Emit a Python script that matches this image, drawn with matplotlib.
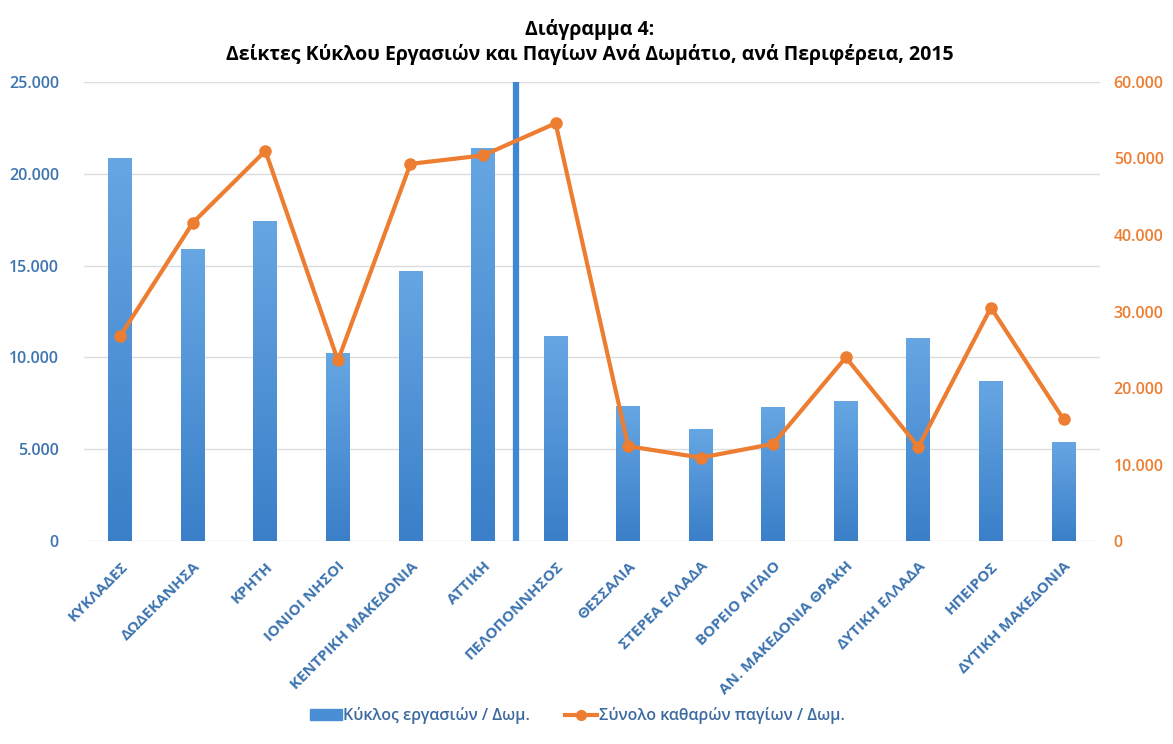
import matplotlib
matplotlib.use("Agg")
import numpy as np
import matplotlib.pyplot as plt
from matplotlib.ticker import FuncFormatter
from matplotlib.lines import Line2D
from matplotlib.patches import Patch
from matplotlib.colors import LinearSegmentedColormap

plt.rcParams['font.family'] = ['Open Sans', 'DejaVu Sans']

# ============================================================
# 数据
# ============================================================
regions = ["ΚΥΚΛΑΔΕΣ", "ΔΩΔΕΚΑΝΗΣΑ", "ΚΡΗΤΗ", "ΙΟΝΙΟΙ ΝΗΣΟΙ", "ΚΕΝΤΡΙΚΗ ΜΑΚΕΔΟΝΙΑ",
           "ΑΤΤΙΚΗ", "ΠΕΛΟΠΟΝΝΗΣΟΣ", "ΘΕΣΣΑΛΙΑ", "ΣΤΕΡΕΑ ΕΛΛΑΔΑ", "ΒΟΡΕΙΟ ΑΙΓΑΙΟ",
           "ΑΝ. ΜΑΚΕΔΟΝΙΑ ΘΡΑΚΗ", "ΔΥΤΙΚΗ ΕΛΛΑΔΑ", "ΗΠΕΙΡΟΣ", "ΔΥΤΙΚΗ ΜΑΚΕΔΟΝΙΑ"]
turnover = [20850, 15900, 17450, 10250, 14700, 21400, 11150,
            7350, 6100, 7300, 7650, 11050, 8700, 5400]
assets = [26800, 41600, 51000, 23600, 49300, 50400, 54600,
          12400, 10900, 12700, 24000, 12300, 30500, 15900]

bar_label = "Κύκλος εργασιών / Δωμ."
line_label = "Σύνολο καθαρών παγίων / Δωμ."
title = "Διάγραμμα 4:\nΔείκτες Κύκλου Εργασιών και Παγίων Ανά Δωμάτιο, ανά Περιφέρεια, 2015"

BLUE = "#4a8fd6"
ORANGE = "#ed7d31"
TICK_BLUE = "#3d74b0"


def dot_fmt(v, pos):
    # 希腊格式：千分位用点号
    return f"{int(v):,}".replace(",", ".")


fig = plt.figure(figsize=(11.73, 7.44), dpi=100)
ax = fig.add_axes([0.0716, 0.2728, 0.866, 0.617])
ax2 = ax.twinx()

x = range(len(regions))
bars = ax.bar(x, turnover, width=0.33, color=BLUE, zorder=2)

# 柱子渐变填充（上浅下深）
grad_cmap = LinearSegmentedColormap.from_list("g", ["#3a7fc8", "#66a6e3"])
grad = np.linspace(0, 1, 256).reshape(-1, 1)
for b in bars:
    x0, w, h = b.get_x(), b.get_width(), b.get_height()
    im = ax.imshow(grad, cmap=grad_cmap, origin="lower", aspect="auto",
                   extent=[x0, x0 + w, 0, h], zorder=2.1)
    im.set_clip_path(b)

ax2.plot(x, assets, color=ORANGE, linewidth=3, marker="o", markersize=8, zorder=3)

# 分隔线（海岛/大陆）
ax.axvline(5.45, color="#3f86d3", linewidth=4.5, zorder=4)

ax.set_xlim(-0.5, len(regions) - 0.5)
ax.set_ylim(0, 25000)
ax2.set_ylim(0, 60000)
ax.set_yticks(range(0, 25001, 5000))
ax2.set_yticks(range(0, 60001, 10000))
ax.yaxis.set_major_formatter(FuncFormatter(dot_fmt))
ax2.yaxis.set_major_formatter(FuncFormatter(dot_fmt))
ax.grid(axis="y", color="#dcdcdc", linewidth=1, zorder=0)
ax.set_axisbelow(True)

for a in (ax, ax2):
    for s in a.spines.values():
        s.set_visible(False)
ax.tick_params(axis="y", length=0, pad=18, labelsize=11.5, labelcolor=TICK_BLUE)
ax2.tick_params(axis="y", length=0, pad=10, labelsize=11.5, labelcolor=ORANGE)
for lbl in ax.get_yticklabels() + ax2.get_yticklabels():
    lbl.set_fontweight("semibold")

ax.set_xticks(list(x))
ax.set_xticklabels(regions, rotation=45, ha="right", rotation_mode="anchor",
                   fontsize=11, color=TICK_BLUE, fontweight="bold")
ax.tick_params(axis="x", length=0, pad=13)

fig.text(0.503, 0.975, title, ha="center", va="top", fontsize=14,
         fontweight="bold", linespacing=1.25)

handles = [Patch(color=BLUE, label=bar_label),
           Line2D([0], [0], color=ORANGE, linewidth=3, marker="o", markersize=7, label=line_label)]
leg = fig.legend(handles=handles, loc="center", bbox_to_anchor=(0.492, 0.038), ncol=2,
                 frameon=False, fontsize=11.5, handlelength=2.0, columnspacing=2.2,
                 handletextpad=0.1)
for t in leg.get_texts():
    t.set_color("#3d6aa0")
    t.set_fontweight("semibold")

fig.savefig("out.png", dpi=100)
